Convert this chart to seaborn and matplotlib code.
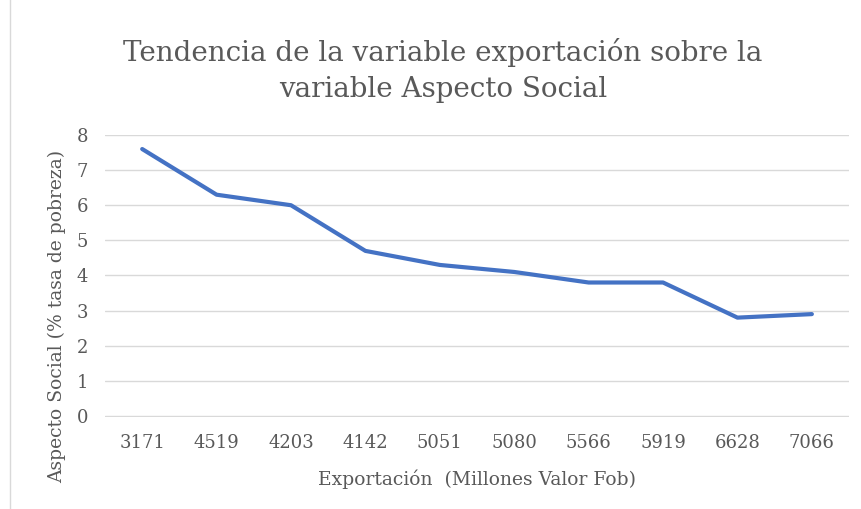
import pandas as pd
import seaborn as sns
import matplotlib.pyplot as plt
from matplotlib.patches import Rectangle

# Data
exportacion = ['3171', '4519', '4203', '4142', '5051', '5080', '5566', '5919', '6628', '7066']
aspecto_social = [7.6, 6.3, 6.0, 4.7, 4.3, 4.1, 3.8, 3.8, 2.8, 2.9]

df = pd.DataFrame({'Exportacion': exportacion, 'Aspecto': aspecto_social})
df['pos'] = range(len(df))

sns.set_style('white')
plt.rcParams['font.family'] = ['DejaVu Serif']
gray = '#595959'

fig = plt.figure(figsize=(8.62, 5.09), dpi=100)
ax = fig.add_axes([0.1218, 0.1807, 0.8632, 0.5541])

sns.lineplot(x='pos', y='Aspecto', data=df, ax=ax, color='#4472C4', linewidth=3)

ax.set_xlim(-0.5, len(df) - 0.5)
ax.set_ylim(-0.03, 8)
ax.set_yticks(range(0, 9))
ax.set_xticks(df['pos'])
ax.set_xticklabels(exportacion)
ax.yaxis.grid(True, color='#D9D9D9', linewidth=1)
ax.set_axisbelow(True)
for s in ax.spines.values():
    s.set_visible(False)
ax.tick_params(axis='x', length=0, labelsize=13, colors=gray, pad=12)
ax.tick_params(axis='y', length=0, labelsize=13, colors=gray, pad=12)

ax.set_xlabel('Exportación  (Millones Valor Fob)', fontsize=13.5, color=gray, labelpad=13)
ax.set_ylabel('Aspecto Social (% tasa de pobreza)', fontsize=13.5, color=gray)
ax.yaxis.set_label_coords(-0.052, 0.355)

fig.text(0.514, 0.862, 'Tendencia de la variable exportación sobre la\nvariable Aspecto Social',
         ha='center', va='center', fontsize=20, color=gray, linespacing=1.45)

# light frame of the chart area
fig.patches.append(Rectangle((0.012, -0.01), 1.0, 1.02, transform=fig.transFigure,
                             fill=False, edgecolor='#D9D9D9', linewidth=1))

plt.savefig('out.png', dpi=100)
